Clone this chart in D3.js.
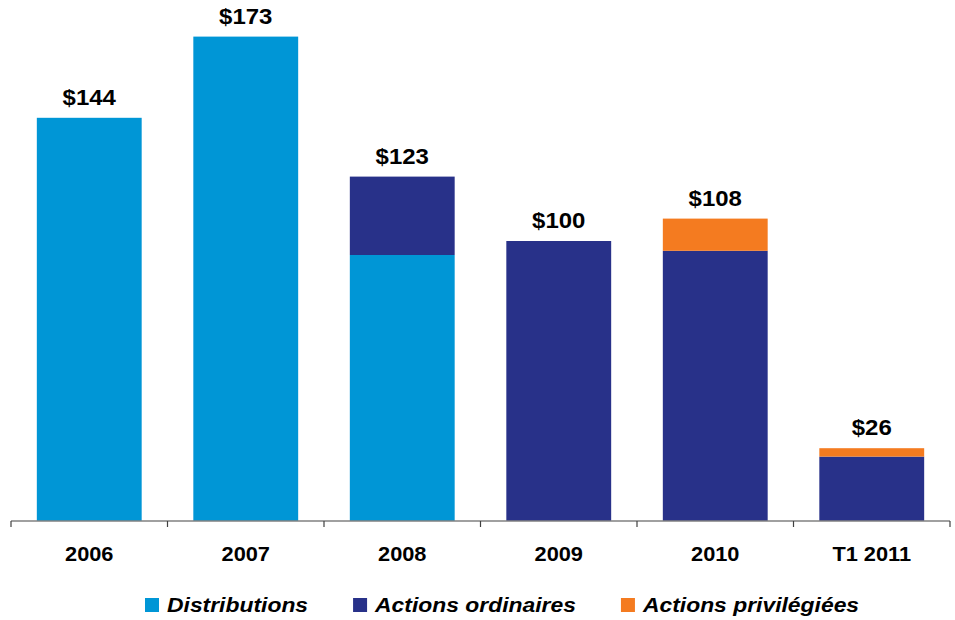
<!DOCTYPE html>
<html>
<head>
<meta charset="utf-8">
<script src="https://cdn.jsdelivr.net/npm/d3@7"></script>
<style>
  html, body { margin: 0; padding: 0; background: #fff; }
  svg { display: block; font-family: Arial, "Liberation Sans", sans-serif; }
</style>
</head>
<body>
<svg id="chart" width="955" height="620"></svg>
<script>
// Années / périodes
const categories = ["2006", "2007", "2008", "2009", "2010", "T1 2011"];
// Montants (M$) par composante
const distributions = [144, 173, 95, 0, 0, 0];
const actionsOrdinaires = [0, 0, 28, 100, 96.5, 23];
const actionsPrivilegiees = [0, 0, 0, 0, 11.5, 3];
// Libellés des totaux
const totalLabels = ["$144", "$173", "$123", "$100", "$108", "$26"];
const totals = [144, 173, 123, 100, 108, 26];

const seriesNames = ["Distributions", "Actions ordinaires", "Actions privilégiées"];
const seriesColors = ["#0096D6", "#283189", "#F47B20"];

const svg = d3.select("#chart");
const stretch = 1.09;

const x = d3.scaleBand()
  .domain(categories)
  .range([11, 950])
  .paddingInner(0.33)
  .paddingOuter(0.165);

const y = d3.scaleLinear()
  .domain([0, 180])
  .range([521, 17]);

const rows = categories.map((c, i) => ({
  cat: c,
  "Distributions": distributions[i],
  "Actions ordinaires": actionsOrdinaires[i],
  "Actions privilégiées": actionsPrivilegiees[i]
}));

const stack = d3.stack().keys(seriesNames)(rows);

svg.append("g")
  .selectAll("g")
  .data(stack)
  .join("g")
  .attr("fill", (d, i) => seriesColors[i])
  .selectAll("rect")
  .data(d => d.filter(p => p[1] - p[0] > 0))
  .join("rect")
  .attr("x", d => x(d.data.cat))
  .attr("width", x.bandwidth())
  .attr("y", d => y(d[1]))
  .attr("height", d => y(d[0]) - y(d[1]));

// Étiquettes des totaux
svg.append("g")
  .selectAll("text")
  .data(categories)
  .join("text")
  .attr("transform", (c, i) => `translate(${x(c) + x.bandwidth() / 2},${y(totals[i]) - 13}) scale(${stretch},1)`)
  .attr("text-anchor", "middle")
  .attr("font-size", 22)
  .attr("font-weight", "bold")
  .attr("fill", "#000")
  .text((c, i) => totalLabels[i]);

// Axe horizontal
const axisG = svg.append("g").attr("transform", `translate(0,${y(0)})`);
axisG.append("line")
  .attr("x1", 11).attr("x2", 950)
  .attr("stroke", "#808080").attr("stroke-width", 1.5);
const tickPos = categories.map(c => x(c) - x.step() * x.paddingInner() / 2).concat([950]);
axisG.selectAll(".tick")
  .data(tickPos)
  .join("line")
  .attr("x1", d => d).attr("x2", d => d)
  .attr("y1", 0).attr("y2", 6)
  .attr("stroke", "#404040").attr("stroke-width", 1.2);
axisG.selectAll(".lbl")
  .data(categories)
  .join("text")
  .attr("transform", c => `translate(${x(c) + x.bandwidth() / 2},40) scale(${stretch},1)`)
  .attr("text-anchor", "middle")
  .attr("font-size", 20)
  .attr("font-weight", "bold")
  .attr("fill", "#000")
  .text(c => c);

// Légende
const legend = svg.append("g").attr("transform", "translate(145,598)");
let lx = 0;
seriesNames.forEach((name, i) => {
  const g = legend.append("g").attr("transform", `translate(${lx},0)`);
  g.append("rect").attr("width", 14).attr("height", 14).attr("fill", seriesColors[i]);
  const t = g.append("text")
    .attr("transform", `translate(22,13.5) scale(${stretch},1)`)
    .attr("font-size", 21)
    .attr("font-weight", "bold")
    .attr("font-style", "italic")
    .attr("fill", "#000")
    .text(name);
  const w = t.node().getComputedTextLength() * stretch;
  lx += 22 + w + 45;
});
</script>
</body>
</html>
